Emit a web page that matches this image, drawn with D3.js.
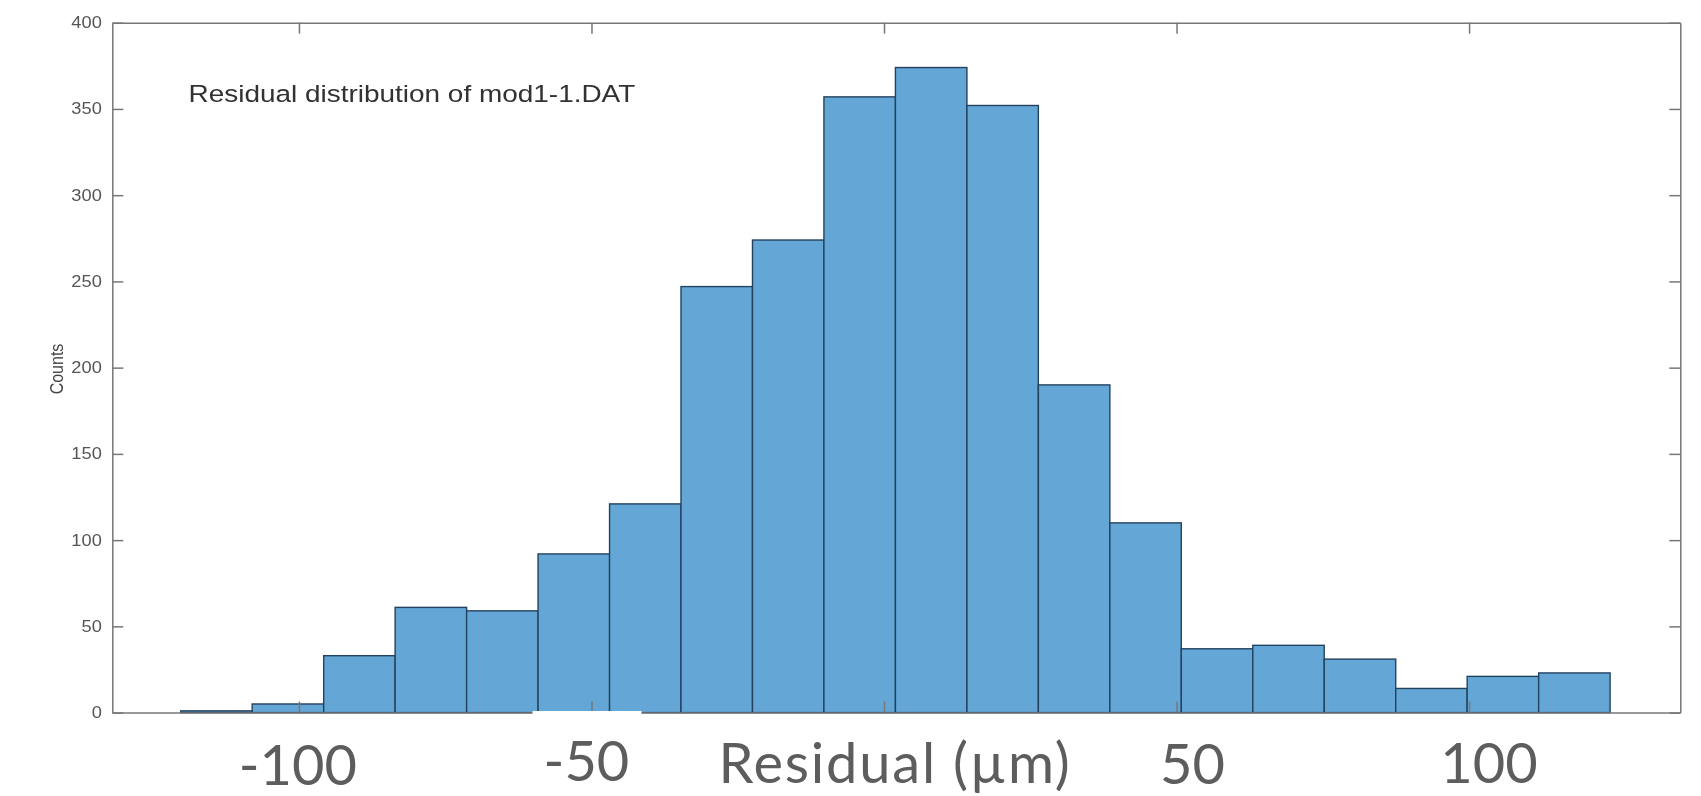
<!DOCTYPE html>
<html>
<head>
<meta charset="utf-8">
<script src="https://cdn.jsdelivr.net/npm/d3@7/dist/d3.min.js"></script>
<style>
  html, body { margin: 0; padding: 0; background: #fff; }
  svg { display: block; }
</style>
</head>
<body>
<svg id="chart" width="1701" height="796"></svg>
<script>
// Histogram of fit residuals for mod1-1.DAT
const binEdges = [-120.2, -107.99, -95.77, -83.56, -71.34, -59.13, -46.91, -34.70, -22.48, -10.27,
                  1.95, 14.17, 26.38, 38.60, 50.81, 63.03, 75.24, 87.46, 99.67, 111.89, 124.10];
const counts = [1, 5, 33, 61, 59, 92, 121, 247, 274, 357, 374, 352, 190, 110, 37, 39, 31, 14, 21, 23];
const yTicks = [0, 50, 100, 150, 200, 250, 300, 350, 400];
const xTicks = [-100, -50, 0, 50, 100];
const xTickLabels = ["-100", "-50", "50", "100"];
const xTickLabelValues = [-100, -50, 50, 100];
const xLabel = "Residual (\u00B5m)";
const yLabel = "Counts";
const plotTitle = "Residual distribution of mod1-1.DAT";

// layout
const plot = { left: 112.3, right: 1680.3, top: 22.7, bottom: 712.6 };
const xDomain = [-131.9, 136.1];
const axisColor = "#777";
const stretch = 1.17; // horizontal stretch of the figure text

const svg = d3.select("#chart");

const defs = svg.append("defs");
defs.append("filter").attr("id", "soft")
  .append("feGaussianBlur").attr("stdDeviation", 0.45);

const x = d3.scaleLinear().domain(xDomain).range([plot.left, plot.right]);
const y = d3.scaleLinear().domain([0, 400]).range([plot.bottom, plot.top]);

const bins = counts.map((c, i) => ({ x0: binEdges[i], x1: binEdges[i + 1], n: c }));

// bars
svg.append("g").selectAll("rect")
  .data(bins)
  .join("rect")
  .attr("x", d => x(d.x0))
  .attr("y", d => y(d.n))
  .attr("width", d => x(d.x1) - x(d.x0))
  .attr("height", d => y(0) - y(d.n))
  .attr("fill", "#64a7d6")
  .attr("stroke", "#24425f")
  .attr("stroke-width", 1.4);

// axes box with inward ticks
function styleAxis(g) {
  g.selectAll("path.domain").attr("stroke", axisColor).attr("stroke-width", 1.5);
  g.selectAll(".tick line").attr("stroke", axisColor).attr("stroke-width", 1.5);
}

svg.append("g").attr("transform", `translate(0,${plot.bottom})`)
  .call(d3.axisBottom(x).tickValues(xTicks).tickSize(-11).tickSizeOuter(0).tickFormat(""))
  .call(styleAxis);
svg.append("g").attr("transform", `translate(0,${plot.top})`)
  .call(d3.axisTop(x).tickValues(xTicks).tickSize(-11).tickSizeOuter(0).tickFormat(""))
  .call(styleAxis);
svg.append("g").attr("transform", `translate(${plot.right},0)`)
  .call(d3.axisRight(y).tickValues(yTicks).tickSize(-11).tickSizeOuter(0).tickFormat(""))
  .call(styleAxis);

const yAxis = svg.append("g").attr("transform", `translate(${plot.left},0)`)
  .call(d3.axisLeft(y).tickValues(yTicks).tickSize(-11).tickSizeOuter(0).tickPadding(9))
  .call(styleAxis);
yAxis.selectAll(".tick text")
  .attr("font-family", "'Liberation Sans', Arial, sans-serif")
  .attr("font-size", 15.6)
  .attr("fill", "#555")
  .attr("transform", `scale(${stretch},1)`)
  .attr("filter", "url(#soft)");

// y label
svg.append("text")
  .attr("transform", `translate(56,369) scale(${stretch},1) rotate(-90)`)
  .attr("text-anchor", "middle")
  .attr("dy", "0.35em")
  .attr("font-family", "'Liberation Sans', Arial, sans-serif")
  .attr("font-size", 16)
  .attr("fill", "#444")
  .attr("filter", "url(#soft)")
  .text(yLabel);

// title inside the axes
svg.append("text")
  .attr("transform", `translate(188.5,101.5) scale(1.2,1)`)
  .attr("font-family", "'Liberation Sans', Arial, sans-serif")
  .attr("font-size", 23.3)
  .attr("fill", "#303030")
  .attr("filter", "url(#soft)")
  .text(plotTitle);

// large bottom tick labels on white boxes
const labelFont = "Lato, 'Open Sans', sans-serif";
const labelSize = 56;
const labelColor = "#5d5d5d";
const labelNudge = { "-100": -1, "-50": -5, "50": 16, "100": 20 };
const labelBase = { "-100": 785, "-50": 781, "50": 784, "100": 783 };

// the box behind "-50" hides the axis line
svg.append("rect")
  .attr("x", x(-50) - 59).attr("y", plot.bottom - 1.6)
  .attr("width", 109).attr("height", 796 - plot.bottom)
  .attr("fill", "#fff");

svg.append("g").selectAll("text")
  .data(xTickLabelValues)
  .join("text")
  .attr("x", (v, i) => x(v) + labelNudge[xTickLabels[i]])
  .attr("y", (v, i) => labelBase[xTickLabels[i]])
  .attr("text-anchor", "middle")
  .attr("font-family", labelFont)
  .attr("font-size", labelSize)
  .attr("fill", labelColor)
  .text((v, i) => xTickLabels[i]);

svg.append("text")
  .attr("x", x(0) + 11)
  .attr("y", 783)
  .attr("text-anchor", "middle")
  .attr("font-family", labelFont)
  .attr("font-size", labelSize)
  .attr("letter-spacing", 1.8)
  .attr("fill", labelColor)
  .text(xLabel);
</script>
</body>
</html>
